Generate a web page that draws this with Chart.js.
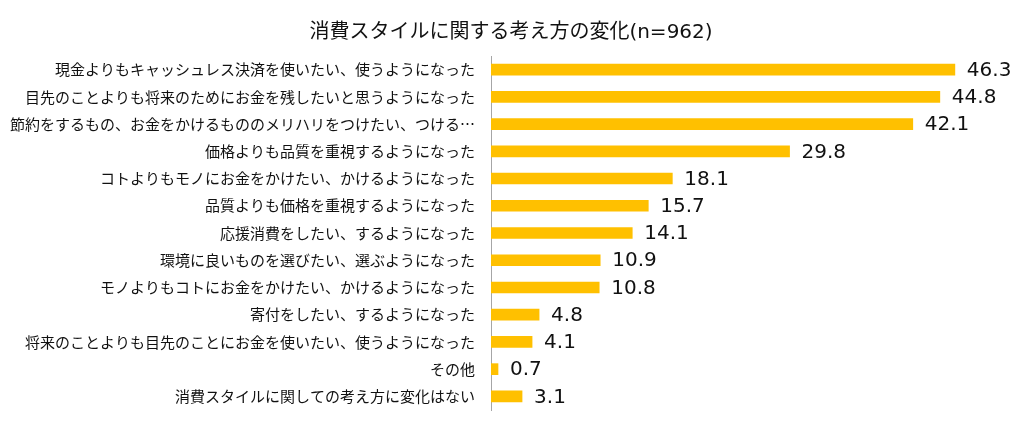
<!DOCTYPE html>
<html>
<head>
<meta charset="utf-8">
<script src="https://cdn.jsdelivr.net/npm/chart.js@4"></script>
<style>
  html, body { margin: 0; padding: 0; background: #fff; }
  #wrap { width: 1022px; height: 427px; }
</style>
</head>
<body>
<div id="wrap"><canvas id="myChart"></canvas></div>
<script>
// data
const chart_title = '消費スタイルに関する考え方の変化(n=962)';
const categories = [
  '現金よりもキャッシュレス決済を使いたい、使うようになった',
  '目先のことよりも将来のためにお金を残したいと思うようになった',
  '節約をするもの、お金をかけるもののメリハリをつけたい、つける…',
  '価格よりも品質を重視するようになった',
  'コトよりもモノにお金をかけたい、かけるようになった',
  '品質よりも価格を重視するようになった',
  '応援消費をしたい、するようになった',
  '環境に良いものを選びたい、選ぶようになった',
  'モノよりもコトにお金をかけたい、かけるようになった',
  '寄付をしたい、するようになった',
  '将来のことよりも目先のことにお金を使いたい、使うようになった',
  'その他',
  '消費スタイルに関しての考え方に変化はない'
];
const values = [46.3, 44.8, 42.1, 29.8, 18.1, 15.7, 14.1, 10.9, 10.8, 4.8, 4.1, 0.7, 3.1];

const jp_font = "'Noto Sans CJK JP', 'Noto Sans', sans-serif";
const mixed_font = "'DejaVu Sans', 'Noto Sans CJK JP', sans-serif";

// value labels at the end of each bar
const valueLabels = {
  id: 'valueLabels',
  afterDatasetsDraw(chart){
    const ctx = chart.ctx;
    const meta = chart.getDatasetMeta(0);
    ctx.save();
    ctx.font = '20px ' + mixed_font;
    ctx.fillStyle = '#111';
    ctx.textAlign = 'left';
    ctx.textBaseline = 'middle';
    meta.data.forEach(function(bar, i){
      ctx.fillText(values[i].toFixed(1), bar.x + 12, bar.y + 1);
    });
    ctx.restore();
  }
};

new Chart(document.getElementById('myChart'), {
  type: 'bar',
  data: {
    labels: categories,
    datasets: [{
      data: values,
      backgroundColor: '#FFC000',
      borderWidth: 0,
      barThickness: 11
    }]
  },
  plugins: [valueLabels],
  options: {
    indexAxis: 'y',
    responsive: true,
    maintainAspectRatio: false,
    animation: false,
    layout: { padding: { top: 21, bottom: 16, left: 0, right: 0 } },
    plugins: {
      legend: { display: false },
      tooltip: { enabled: false },
      title: {
        display: true,
        text: chart_title,
        color: '#111',
        font: { family: mixed_font, size: 20, weight: 'normal' },
        padding: { top: 0, bottom: 11 }
      }
    },
    scales: {
      x: {
        display: false,
        min: 0,
        max: 53
      },
      y: {
        grid: { display: false },
        border: { display: true, color: '#a6a6a6', width: 1 },
        ticks: {
          color: '#111',
          padding: 8,
          autoSkip: false,
          font: { family: jp_font, size: 15 }
        },
        afterFit(scale){ scale.width = 491; }
      }
    }
  }
});
</script>
</body>
</html>
